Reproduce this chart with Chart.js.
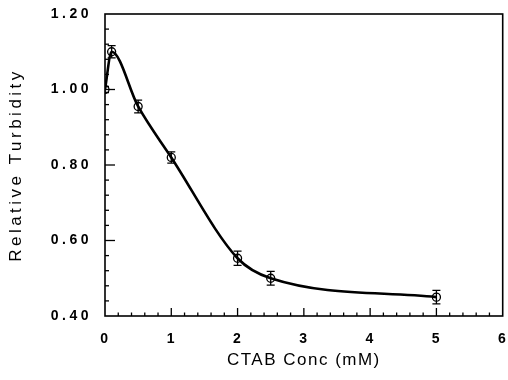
<!DOCTYPE html>
<html>
<head>
<meta charset="utf-8">
<script src="https://cdn.jsdelivr.net/npm/chart.js@4/dist/chart.umd.min.js"></script>
<style>
  html, body { margin: 0; padding: 0; background: #fff; }
  #wrap { width: 508px; height: 380px; }
</style>
</head>
<body>
<div id="wrap"><canvas id="grafic"></canvas></div>
<script>
// turbidesa relativa segons la concentracio de CTAB
const conc = [0, 0.1, 0.5, 1.0, 2.0, 2.5, 5.0];
const turbidity = [1.00, 1.10, 0.955, 0.82, 0.553, 0.50, 0.45];
const errors = [0.008, 0.016, 0.017, 0.015, 0.019, 0.018, 0.018];
const xTicks = [0, 1, 2, 3, 4, 5, 6];
const yTicks = [0.40, 0.60, 0.80, 1.00, 1.20];

const FONT = "'Liberation Sans', Arial, sans-serif";

// barres d'error, una serie per punt
const errorSets = conc.map((c, i) => ({
  data: [{ x: c, y: turbidity[i] - errors[i] }, { x: c, y: turbidity[i] + errors[i] }],
  showLine: true,
  borderColor: '#000',
  borderWidth: 1.3,
  pointStyle: 'line',
  pointRadius: 4,
  pointBorderWidth: 1.3,
  pointBorderColor: '#000'
}));

// treu el farciment que chart.js afegeix per les etiquetes dels extrems
function fixSize(scale, w, h) {
  if (w) scale.width = w;
  if (h) scale.height = h;
  scale.paddingLeft = scale.paddingRight = scale.paddingTop = scale.paddingBottom = 0;
}

// marc i marques cap endins
const framePlugin = {
  id: 'frame',
  beforeDraw(chart) {
    chart.ctx.letterSpacing = '1.5px';
  },
  afterDatasetsDraw(chart) {
    const { ctx, chartArea: a, scales: { x, y } } = chart;
    ctx.save();
    ctx.strokeStyle = '#000';
    ctx.lineWidth = 1.3;
    for (let i = 1; i < 30; i++) {
      const px = x.getPixelForValue(i * 0.2);
      const len = i % 5 === 0 ? 8 : 3.5;
      ctx.beginPath();
      ctx.moveTo(px, a.bottom);
      ctx.lineTo(px, a.bottom - len);
      ctx.stroke();
    }
    for (let i = 1; i < 20; i++) {
      const py = y.getPixelForValue(0.4 + i * 0.04);
      const len = i % 5 === 0 ? 10 : 4;
      ctx.beginPath();
      ctx.moveTo(a.left, py);
      ctx.lineTo(a.left + len, py);
      ctx.stroke();
    }
    ctx.lineWidth = 1.6;
    ctx.strokeRect(a.left, a.top, a.right - a.left, a.bottom - a.top);
    ctx.restore();
    ctx.letterSpacing = '3.5px';
  }
};

const ctx = document.getElementById('grafic').getContext('2d');

new Chart(ctx, {
  type: 'scatter',
  data: {
    datasets: [{
      data: conc.map((c, i) => ({ x: c, y: turbidity[i] })),
      showLine: true,
      cubicInterpolationMode: 'monotone',
      borderColor: '#000',
      borderWidth: 2.6,
      pointStyle: 'circle',
      pointRadius: 4,
      pointBorderWidth: 1.3,
      pointBorderColor: '#000',
      pointBackgroundColor: 'rgba(255,255,255,0)'
    }, ...errorSets]
  },
  plugins: [framePlugin],
  options: {
    responsive: true,
    maintainAspectRatio: false,
    animation: false,
    events: [],
    layout: { padding: { top: 14, right: 5, left: 0, bottom: 0 } },
    plugins: {
      legend: { display: false },
      tooltip: { enabled: false }
    },
    scales: {
      x: {
        type: 'linear',
        min: 0,
        max: 6,
        afterFit(scale) { fixSize(scale, 0, 64); },
        afterBuildTicks(scale) { scale.ticks = xTicks.map(v => ({ value: v })); },
        grid: { display: false, drawTicks: false },
        border: { display: false },
        ticks: {
          color: '#000',
          padding: 15,
          maxRotation: 0,
          font: { family: FONT, size: 14, weight: 'bold' }
        },
        title: {
          display: true,
          text: 'CTAB Conc (mM)',
          color: '#000',
          padding: { top: 0, bottom: 9 },
          font: { family: FONT, size: 17 }
        }
      },
      y: {
        type: 'linear',
        min: 0.4,
        max: 1.2,
        afterFit(scale) { fixSize(scale, 105, 0); },
        afterBuildTicks(scale) { scale.ticks = yTicks.map(v => ({ value: v })); },
        grid: { display: false, drawTicks: false, z: 1 },
        border: { display: false },
        ticks: {
          z: 1,
          color: '#000',
          padding: 13,
          font: { family: FONT, size: 14, weight: 'bold' },
          callback: v => v.toFixed(2)
        },
        title: {
          display: true,
          text: 'Relative Turbidity',
          color: '#000',
          padding: { top: 6, bottom: 0 },
          font: { family: FONT, size: 17 }
        }
      }
    }
  }
});
</script>
</body>
</html>
